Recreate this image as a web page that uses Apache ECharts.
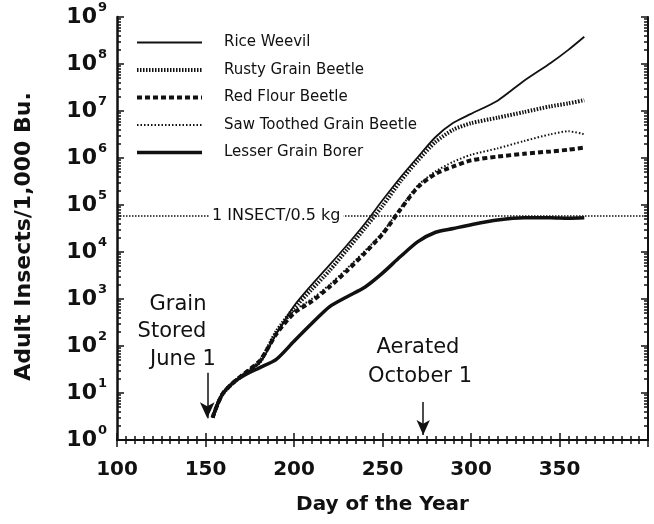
<!DOCTYPE html>
<html>
<head>
<meta charset="utf-8">
<script src="https://cdn.jsdelivr.net/npm/echarts@6/dist/echarts.min.js"></script>
<style>
  html, body { margin: 0; padding: 0; background: #fff; }
  #chart { width: 654px; height: 524px; }
</style>
</head>
<body>
<div id="chart"></div>
<script>
// Day of the year for each sample
const days = [154, 157, 160, 166, 173, 181, 190, 200, 210, 220, 230, 240, 250, 260, 270, 280, 290, 300, 315, 330, 345, 355, 364];

// Adult insects per 1,000 bushels
const riceWeevil = [3, 6, 10, 17, 27, 45, 180, 710, 2000, 5250, 14100, 40000, 126000, 380000, 1050000, 2800000, 5600000, 8700000, 16600000, 44000000, 105000000, 200000000, 380000000];
const rustyGrainBeetle = [3, 6, 10, 17, 27, 48, 200, 630, 1600, 4000, 11200, 32000, 95000, 316000, 890000, 2200000, 4000000, 5500000, 7200000, 9500000, 12600000, 14500000, 17000000];
const redFlourBeetle = [3, 6, 10, 17, 28, 50, 180, 500, 890, 1800, 4000, 9500, 24000, 79000, 240000, 460000, 660000, 890000, 1070000, 1230000, 1380000, 1500000, 1660000];
const sawToothedGrainBeetle = [3, 6, 10, 17, 28, 50, 190, 560, 1000, 2000, 4500, 10500, 26000, 85000, 260000, 520000, 830000, 1170000, 1600000, 2300000, 3200000, 3700000, 3200000];
const lesserGrainBorer = [3, 6, 10, 17, 25, 35, 52, 126, 300, 680, 1120, 1780, 3550, 7900, 16600, 26300, 31600, 38000, 47900, 53700, 53700, 52500, 53700];

const seriesNames = ['Rice Weevil', 'Rusty Grain Beetle', 'Red Flour Beetle', 'Saw Toothed Grain Beetle', 'Lesser Grain Borer'];

// Axis ranges
const xMin = 100, xMax = 400, xStep = 50;
const yMinExp = 0, yMaxExp = 9;

// Reference level and event days
const threshold = 59000;          // 1 insect per 0.5 kg
const thresholdLabel = '1 INSECT/0.5 kg';
const storedDay = 151;            // grain stored June 1
const aeratedDay = 273;           // aerated October 1

const INK = '#111';
const FONT = 'DejaVu Sans';

function pairs(values) {
  return days.map((d, i) => [d, values[i]]);
}

// Log-spaced minor ticks (2..9 in every decade), in log10 units
const minorY = [];
for (let n = yMinExp; n < yMaxExp; n++) {
  for (let k = 2; k <= 9; k++) minorY.push(n + Math.log10(k));
}

const chart = echarts.init(document.getElementById('chart'), null, { renderer: 'canvas' });

const baseLine = (type, width) => ({ color: INK, width: width, type: type, cap: 'butt' });

function lineSeries(name, values, lineStyle, z, extra) {
  return Object.assign({
    name: name,
    type: 'line',
    xAxisIndex: 0,
    yAxisIndex: 0,
    data: pairs(values),
    symbol: 'none',
    showSymbol: false,
    smooth: 0.25,
    itemStyle: { color: INK },
    lineStyle: lineStyle,
    z: z,
    animation: false
  }, extra || {});
}

const textStyle = (text, x, y) => ({
  type: 'text', x: x, y: y,
  style: { text: text, font: '21px "DejaVu Sans"', fill: INK, textAlign: 'center', textVerticalAlign: 'middle' }
});

const option = {
  backgroundColor: '#fff',
  animation: false,
  grid: { left: 117, right: 6, top: 17, bottom: 84, outerBoundsMode: 'none', containLabel: false },
  legend: {
    data: seriesNames,
    orient: 'vertical',
    left: 135,
    top: 35,
    padding: 0,
    itemWidth: 65,
    itemHeight: 14,
    itemGap: 12.5,
    selectedMode: false,
    itemStyle: { opacity: 0 },
    lineStyle: { width: 'inherit' },
    textStyle: { fontFamily: FONT, fontSize: 15, color: INK, lineHeight: 14, padding: [0, 0, 0, 17] }
  },
  xAxis: [
    {
      type: 'value', min: xMin, max: xMax, interval: xStep, position: 'bottom',
      name: 'Day of the Year', nameLocation: 'middle', nameGap: 55,
      nameTextStyle: { fontFamily: FONT, fontSize: 20, fontWeight: 'bold', color: INK },
      axisLine: { show: true, lineStyle: { color: INK, width: 2 } },
      axisTick: { show: true, inside: true, length: 7, lineStyle: { color: INK, width: 1.5 } },
      minorTick: { show: true, splitNumber: 10, length: 4, lineStyle: { color: INK, width: 1.5 } },
      axisLabel: { show: true, margin: 20, showMaxLabel: false, fontFamily: FONT, fontSize: 20, fontWeight: 'bold', color: INK },
      splitLine: { show: false }, minorSplitLine: { show: false }
    },
    {
      type: 'value', min: xMin, max: xMax, interval: xStep, position: 'top',
      axisLine: { show: true, lineStyle: { color: INK, width: 1.5 } },
      axisTick: { show: true, inside: true, length: 7, lineStyle: { color: INK, width: 1.5 } },
      minorTick: { show: true, splitNumber: 10, length: 4, lineStyle: { color: INK, width: 1.5 } },
      axisLabel: { show: false },
      splitLine: { show: false }, minorSplitLine: { show: false }
    }
  ],
  yAxis: [
    {
      type: 'log', logBase: 10, min: Math.pow(10, yMinExp), max: Math.pow(10, yMaxExp), position: 'left',
      name: 'Adult Insects/1,000 Bu.', nameLocation: 'middle', nameGap: 82,
      nameTextStyle: { fontFamily: FONT, fontSize: 22, fontWeight: 'bold', color: INK, padding: [0, 16, 0, 0] },
      axisLine: { show: true, lineStyle: { color: INK, width: 2.5 } },
      axisTick: { show: true, inside: true, length: 7, lineStyle: { color: INK, width: 1.5 } },
      axisLabel: {
        show: true, margin: 10,
        formatter: v => '{b|10}{s|' + Math.round(Math.log10(v)) + '}',
        rich: {
          b: { fontFamily: FONT, fontSize: 22, fontWeight: 'bold', color: INK, lineHeight: 32 },
          s: { fontFamily: FONT, fontSize: 13, fontWeight: 'bold', color: INK, verticalAlign: 'top', padding: [0, 0, 0, 1] }
        }
      },
      splitLine: { show: false }
    },
    {
      type: 'value', min: yMinExp, max: yMaxExp, position: 'left',
      axisLine: { show: false },
      axisTick: { show: true, inside: true, length: 4, customValues: minorY, lineStyle: { color: INK, width: 1.5 } },
      axisLabel: { show: false },
      splitLine: { show: false }
    },
    {
      type: 'log', logBase: 10, min: Math.pow(10, yMinExp), max: Math.pow(10, yMaxExp), position: 'right',
      axisLine: { show: true, lineStyle: { color: INK, width: 2 } },
      axisTick: { show: true, inside: true, length: 7, lineStyle: { color: INK, width: 1.5 } },
      axisLabel: { show: false },
      splitLine: { show: false }
    },
    {
      type: 'value', min: yMinExp, max: yMaxExp, position: 'right',
      axisLine: { show: false },
      axisTick: { show: true, inside: true, length: 4, customValues: minorY, lineStyle: { color: INK, width: 1.5 } },
      axisLabel: { show: false },
      splitLine: { show: false }
    }
  ],
  series: [
    lineSeries(seriesNames[0], riceWeevil, baseLine('solid', 1.8), 5, {
      markLine: {
        silent: true,
        animation: false,
        symbol: 'none',
        data: [
          {
            yAxis: threshold,
            lineStyle: { color: INK, width: 1.5, type: [1.5, 1.5] },
            label: {
              show: true, formatter: thresholdLabel, position: 'insideStart', distance: [92, 0],
              fontFamily: FONT, fontSize: 16, color: INK, backgroundColor: '#fff', padding: [1, 3]
            }
          },
          [
            { coord: [storedDay, 27], symbol: 'none' },
            { coord: [storedDay, 2.9], symbol: 'arrow', symbolSize: [11, 16] }
          ],
          [
            { coord: [aeratedDay, 6.4], symbol: 'none' },
            { coord: [aeratedDay, 1.28], symbol: 'arrow', symbolSize: [10, 15] }
          ]
        ],
        lineStyle: { color: INK, width: 1.5, type: 'solid' },
        label: { show: false }
      }
    }),
    lineSeries(seriesNames[1], rustyGrainBeetle, baseLine([1.5, 1.5], 4), 4),
    lineSeries(seriesNames[2], redFlourBeetle, baseLine([5, 3], 4), 3),
    lineSeries(seriesNames[3], sawToothedGrainBeetle, baseLine([1.5, 2], 2), 4),
    lineSeries(seriesNames[4], lesserGrainBorer, baseLine('solid', 3.5), 6)
  ],
  graphic: [
    textStyle('Grain', 178, 305),
    textStyle('Stored', 172, 332),
    textStyle('June 1', 183, 360),
    textStyle('Aerated', 418, 348),
    textStyle('October 1', 420, 377)
  ]
};

chart.setOption(option);
</script>
</body>
</html>
